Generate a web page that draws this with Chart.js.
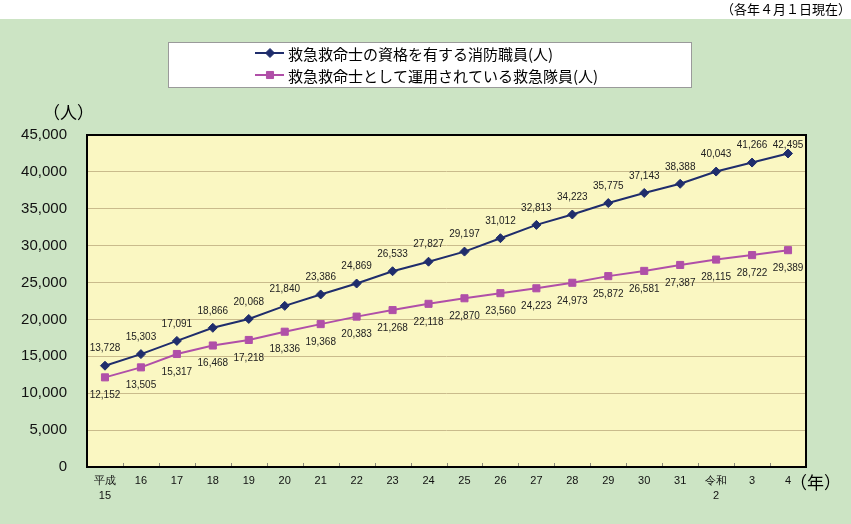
<!DOCTYPE html>
<html>
<head>
<meta charset="utf-8">
<script src="https://cdn.jsdelivr.net/npm/chart.js@4"></script>
<style>
html,body{margin:0;padding:0;background:#fff;}
#wrap{width:851px;height:524px;position:relative;}
</style>
</head>
<body>
<div id="wrap"><canvas id="c"></canvas></div>
<script>
const categories = [['平成','15'],'16','17','18','19','20','21','22','23','24','25','26','27','28','29','30','31',['令和','2'],'3','4'];
const qualified = [13728,15303,17091,18866,20068,21840,23386,24869,26533,27827,29197,31012,32813,34223,35775,37143,38388,40043,41266,42495];
const operating = [12152,13505,15317,16468,17218,18336,19368,20383,21268,22118,22870,23560,24223,24973,25872,26581,27387,28115,28722,29389];
const seriesNames = ['救急救命士の資格を有する消防職員(人)','救急救命士として運用されている救急隊員(人)'];
const yTicks = [0,5000,10000,15000,20000,25000,30000,35000,40000,45000];
const noteText = '（各年４月１日現在）';
const yUnit = '（人）';
const xUnit = '（年）';

const NAVY = '#1f2d6c';
const MAG = '#b04fa8';
const JP = '"Noto Sans CJK JP", "Noto Sans", sans-serif';
const NUM = '"Liberation Sans", Arial, sans-serif';

const fmt = v => v.toLocaleString('en-US');

const decor = {
  id: 'decor',
  beforeDraw(chart) {
    const ctx = chart.ctx, a = chart.chartArea;
    ctx.save();
    ctx.fillStyle = '#ffffff';
    ctx.fillRect(0, 0, chart.width, chart.height);
    ctx.fillStyle = '#cce4c4';
    ctx.fillRect(0, 19, chart.width, chart.height - 19);
    ctx.fillStyle = '#faf7c2';
    ctx.fillRect(a.left, a.top, a.right - a.left, a.bottom - a.top);
    ctx.restore();
  },
  afterDatasetsDraw(chart) {
    const ctx = chart.ctx, a = chart.chartArea;
    ctx.save();
    ctx.font = '10px ' + NUM;
    ctx.fillStyle = '#222';
    ctx.textAlign = 'center';
    ctx.textBaseline = 'middle';
    chart.data.datasets.forEach((ds, di) => {
      const meta = chart.getDatasetMeta(di);
      meta.data.forEach((pt, i) => {
        let y = di === 0 ? pt.y - 17 : pt.y + 18;
        if (y < a.top + 10) y = a.top + 10;
        ctx.fillText(fmt(ds.data[i]), pt.x, y);
      });
    });
    ctx.restore();
  },
  afterDraw(chart) {
    const ctx = chart.ctx, a = chart.chartArea;
    ctx.save();
    // inner tick marks at category boundaries
    ctx.strokeStyle = '#8a8a7a';
    ctx.lineWidth = 1;
    const n = chart.data.labels.length;
    const step = (a.right - a.left) / n;
    for (let i = 1; i < n; i++) {
      const x = Math.round(a.left + i * step) + 0.5;
      ctx.beginPath();
      ctx.moveTo(x, a.bottom);
      ctx.lineTo(x, a.bottom - 4);
      ctx.stroke();
    }
    // plot border
    ctx.strokeStyle = '#000';
    ctx.lineWidth = 2;
    ctx.strokeRect(a.left, a.top, a.right - a.left, a.bottom - a.top);

    // legend box
    ctx.fillStyle = '#fff';
    ctx.fillRect(168, 42, 523, 45);
    ctx.strokeStyle = '#9a9a9a';
    ctx.lineWidth = 1;
    ctx.strokeRect(168.5, 42.5, 523, 45);
    const ly = [53, 75];
    chart.data.datasets.forEach((ds, di) => {
      const y = ly[di];
      ctx.strokeStyle = ds.borderColor;
      ctx.lineWidth = 2;
      ctx.beginPath();
      ctx.moveTo(255, y);
      ctx.lineTo(284, y);
      ctx.stroke();
      ctx.fillStyle = ds.pointBackgroundColor;
      ctx.strokeStyle = ds.borderColor;
      ctx.lineWidth = 1;
      Chart.helpers.drawPoint(ctx, {pointStyle: ds.pointStyle, radius: ds.pointRadius, rotation: 0, borderWidth: 1}, 270, y);
      ctx.fillStyle = '#000';
      ctx.font = '15px ' + JP;
      ctx.textAlign = 'left';
      ctx.textBaseline = 'middle';
      ctx.fillText(ds.label, 288, y + 1);
    });

    // texts
    ctx.fillStyle = '#000';
    ctx.textBaseline = 'middle';
    ctx.font = '13px ' + JP;
    ctx.textAlign = 'right';
    ctx.fillText(noteText, 851, 9);
    ctx.font = '17px ' + JP;
    ctx.textAlign = 'left';
    ctx.fillText(yUnit, 43, 113);
    ctx.fillText(xUnit, 790, 483);
    ctx.restore();
  }
};

new Chart(document.getElementById('c'), {
  type: 'line',
  data: {
    labels: categories,
    datasets: [
      {label: seriesNames[0], data: qualified, borderColor: NAVY, backgroundColor: NAVY,
       pointBackgroundColor: NAVY, pointBorderColor: NAVY, pointStyle: 'rectRot', pointRadius: 4.5,
       pointBorderWidth: 1, borderWidth: 2, tension: 0},
      {label: seriesNames[1], data: operating, borderColor: MAG, backgroundColor: MAG,
       pointBackgroundColor: MAG, pointBorderColor: MAG, pointStyle: 'rect', pointRadius: 5,
       pointBorderWidth: 1, borderWidth: 2, tension: 0}
    ]
  },
  options: {
    responsive: true,
    maintainAspectRatio: false,
    animation: false,
    devicePixelRatio: 1,
    layout: {padding: {top: 135, right: 45, bottom: 0, left: 0}},
    plugins: {legend: {display: false}, title: {display: false}, tooltip: {enabled: false}},
    scales: {
      x: {
        offset: true,
        grid: {display: false, drawTicks: false},
        border: {display: false},
        ticks: {padding: 7, color: '#111', font: {family: NUM, size: 11, lineHeight: 1.35}, maxRotation: 0, autoSkip: false},
        afterFit(s) { s.height = 57; }
      },
      y: {
        min: 0, max: 45000,
        afterBuildTicks(s) { s.ticks = yTicks.map(v => ({value: v})); },
        grid: {color: '#c9bb8c', lineWidth: 1, drawTicks: false},
        border: {display: false},
        ticks: {padding: 20, color: '#111', font: {family: NUM, size: 15}, callback: v => fmt(v)},
        afterFit(s) { s.width = 87; }
      }
    }
  },
  plugins: [decor]
});
</script>
</body>
</html>
